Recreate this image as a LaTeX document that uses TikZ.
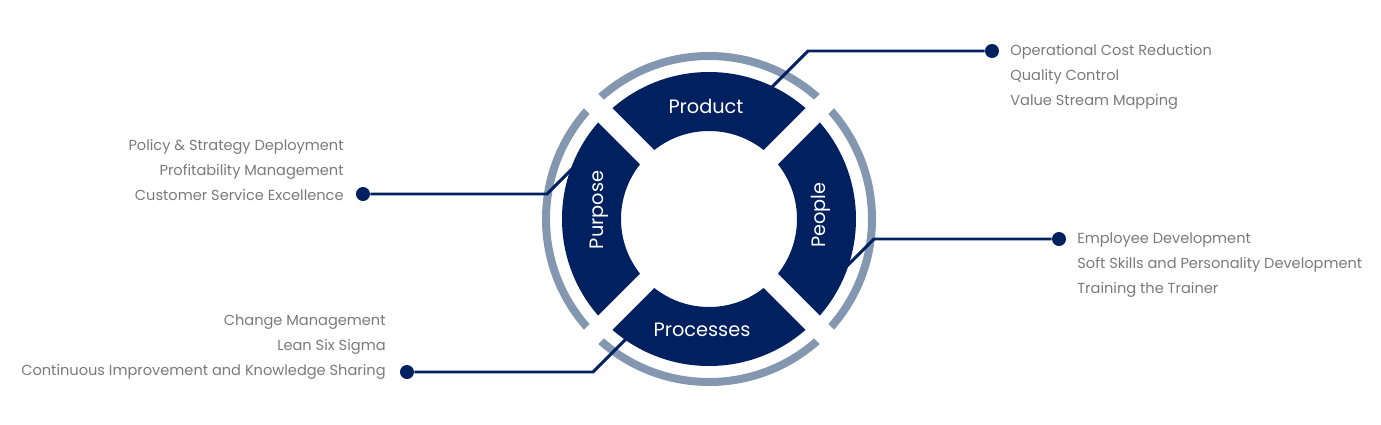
\documentclass[tikz,border=0pt]{standalone}
\usepackage{fontspec}
\setmainfont{Poppins}
\usetikzlibrary{positioning}
\definecolor{navy}{HTML}{002060}
\definecolor{ringblue}{HTML}{8497B0}
\definecolor{textgray}{HTML}{7A7A7A}

\begin{document}
\begin{tikzpicture}[x=1cm,y=1cm]
\tikzset{
  segmentlabel/.style={text=white,font=\fontsize{11}{14}\selectfont,inner sep=0pt},
  itemlist/.style={text=textgray,font=\fontsize{8.3}{14.2}\selectfont,inner sep=0pt},
  dotnode/.style={circle,fill=navy,minimum size=2.8mm,inner sep=0pt},
  leader/.style={navy,line width=1.7pt},
  gapline/.style={white,line width=4mm}
}
\useasboundingbox (-14.18,-4.10) rectangle (13.44,4.38);
% ring and segments
\draw[ringblue,line width=0.16cm] (0,0) circle (3.26);
\fill[navy,even odd rule] (0,0) circle (2.94) circle (1.76);
\draw[gapline] (135:3.6) -- (-45:3.6);
\draw[gapline] (45:3.6) -- (225:3.6);
\node[segmentlabel] (l_product) at (-0.06,2.26) {Product};
\node[segmentlabel,rotate=90] (l_people) at (2.24,0.08) {People};
\node[segmentlabel] (l_processes) at (-0.14,-2.22) {Processes};
\node[segmentlabel,rotate=90] (l_purpose) at (-2.20,0.18) {Purpose};
% leader ends, corners and dots
\coordinate (e_product) at (1.24,2.62);
\coordinate (e_people) at (2.75,-0.95);
\coordinate (e_purpose) at (-2.70,1.04);
\coordinate (e_processes) at (-1.66,-2.40);
\coordinate (k_product) at (1.98,3.36);
\coordinate (k_people) at (3.30,-0.40);
\coordinate (k_purpose) at (-3.24,0.50);
\coordinate (k_processes) at (-2.32,-3.06);
\node[dotnode] (d_product) at (5.66,3.36) {};
\node[dotnode] (d_people) at (7.00,-0.40) {};
\node[dotnode] (d_purpose) at (-6.92,0.50) {};
\node[dotnode] (d_processes) at (-6.04,-3.06) {};
\draw[leader] (e_product) -- (k_product) -- (d_product);
\draw[leader] (e_people) -- (k_people) -- (d_people);
\draw[leader] (e_purpose) -- (k_purpose) -- (d_purpose);
\draw[leader] (e_processes) -- (k_processes) -- (d_processes);
% item lists
\node[itemlist,align=left,anchor=west] (t_product) at (6.02,2.84)
  {Operational Cost Reduction\\Quality Control\\Value Stream Mapping};
\node[itemlist,align=left,anchor=west] (t_people) at (7.36,-0.92)
  {Employee Development\\Soft Skills and Personality Development\\Training the Trainer};
\node[itemlist,align=right,anchor=east] (t_purpose) at (-7.30,0.98)
  {Policy \& Strategy Deployment\\Profitability Management\\Customer Service Excellence};
\node[itemlist,align=right,anchor=east] (t_processes) at (-6.46,-2.56)
  {Change Management\\Lean Six Sigma\\Continuous Improvement and Knowledge Sharing};
\end{tikzpicture}
\end{document}
